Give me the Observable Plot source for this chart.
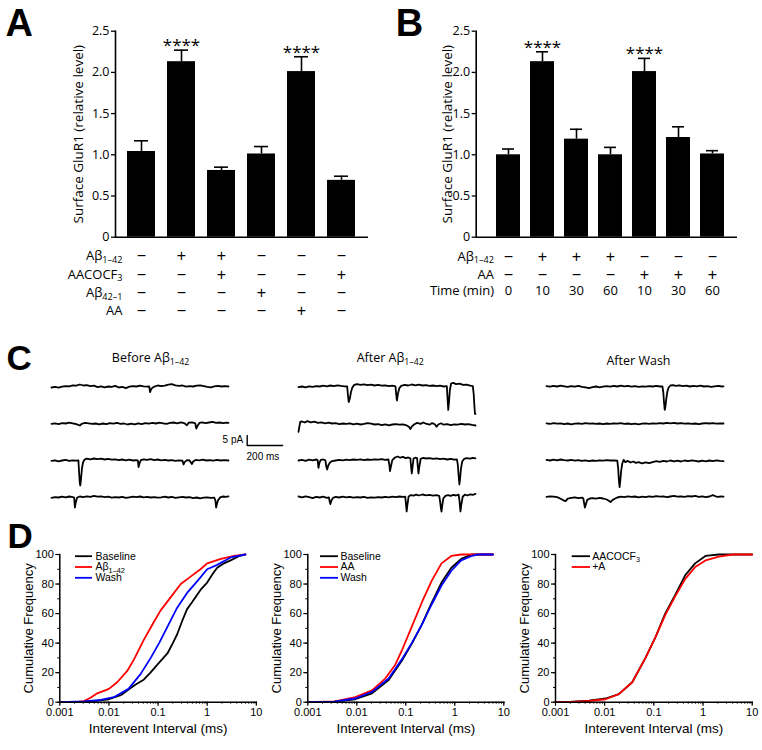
<!DOCTYPE html>
<html><head><meta charset="utf-8">
<script src="https://cdn.jsdelivr.net/npm/d3@7"></script>
<script src="https://cdn.jsdelivr.net/npm/@observablehq/plot@0.6"></script>
<style>
body{margin:0;background:#fff;}
#fig{position:relative;width:762px;height:750px;background:#fff;overflow:hidden;}
#fig svg{position:absolute;overflow:visible;background:transparent;}
</style></head><body><div id="fig"></div>
<script>
// ---------------- DATA ----------------
// Panel A
const aCategories = ["Control", "Aβ1–42", "Aβ1–42 + AACOCF3", "Aβ42–1", "AA", "AACOCF3"];
const aMeans = [1.04, 2.13, 0.81, 1.01, 2.01, 0.69];
const aErrors = [0.13, 0.14, 0.04, 0.09, 0.18, 0.05];
const aStars = ["", "****", "", "", "****", ""];
const aRowLabels = ["Aβ_1–42", "AACOCF_3", "Aβ_42–1", "AA"];
const aRowSigns = [
  ["−", "+", "+", "−", "−", "−"],
  ["−", "−", "+", "−", "−", "+"],
  ["−", "−", "−", "+", "−", "−"],
  ["−", "−", "−", "−", "+", "−"]
];
// Panel B
const bCategories = ["Control 0", "Aβ 10", "Aβ 30", "Aβ 60", "AA 10", "AA 30", "AA 60"];
const bMeans = [1.00, 2.13, 1.19, 1.00, 2.01, 1.21, 1.01];
const bErrors = [0.07, 0.12, 0.12, 0.09, 0.16, 0.13, 0.04];
const bStars = ["", "****", "", "", "****", "", ""];
const bRowLabels = ["Aβ_1–42", "AA", "Time (min)"];
const bRowSigns = [
  ["−", "+", "+", "+", "−", "−", "−"],
  ["−", "−", "−", "−", "+", "+", "+"],
  ["0", "10", "30", "60", "10", "30", "60"]
];
const barYTicks = [0, 0.5, 1.0, 1.5, 2.0, 2.5];
const barYTitle = "Surface GluR1 (relative level)";

// Panel C : traces, [time ms, current pA]
const cTitles = ["Before Aβ_1–42", "After Aβ_1–42", "After Wash"];
const scaleBarPA = 5, scaleBarMS = 200;
const beforeTrace1 = [[0,-0.5],[20,-0.2],[40,-0.6],[60,-0.1],[80,0.2],[100,0.1],[120,0.6],[140,0.4],[160,1.0],[180,0.5],[200,0.7],[220,0.2],[240,0.4],[260,-0.3],[280,0.1],[300,-0.4],[320,0.0],[340,-0.2],[360,0.3],[380,-0.5],[400,-0.2],[420,-0.8],[440,-0.1],[460,0.2],[480,0.0],[500,0.4],[520,0.1],[540,-0.1],[552,0.0],[557,-2.8],[562,-1.5],[570,-0.6],[585,0.1],[600,0.5],[620,0.2],[640,0.4],[660,0.9],[680,1.2],[700,0.6],[720,0.3],[740,0.5],[760,-0.1],[780,0.2],[800,0.0],[820,0.4],[840,0.6],[860,0.2],[880,-0.2],[900,-0.4],[920,0.1],[940,0.3],[960,0.0],[980,0.2],[1000,0.0]];
const beforeTrace2 = [[0,-0.2],[20,0.1],[40,-0.3],[60,0.2],[80,0.0],[100,0.4],[120,0.1],[140,-0.3],[160,-1.0],[170,-0.2],[190,0.3],[210,0.1],[230,-0.2],[250,0.0],[270,-0.4],[290,0.0],[310,-0.3],[330,0.2],[350,-0.1],[370,0.3],[390,-0.2],[410,0.0],[430,-0.5],[450,-0.1],[470,-0.4],[490,0.1],[510,-0.3],[530,0.2],[550,-0.1],[570,0.3],[590,0.0],[610,0.4],[630,0.1],[650,-0.2],[670,0.3],[690,0.5],[710,0.1],[730,0.6],[750,0.2],[765,-0.9],[775,0.4],[795,0.6],[812,0.1],[818,-2.5],[826,-1.0],[836,0.3],[850,0.6],[870,0.2],[890,0.5],[910,0.8],[930,0.3],[950,0.5],[970,0.2],[990,0.4],[1000,0.3]];
const beforeTrace3 = [[0,-0.2],[20,0.1],[40,-0.4],[60,0.0],[80,0.3],[100,-0.2],[120,0.1],[140,-0.1],[152,0.0],[156,-6],[160,-11.5],[163,-12.5],[167,-9],[172,-4],[178,-1.0],[186,0.4],[200,0.9],[220,0.6],[240,1.0],[260,0.7],[280,0.9],[300,0.5],[320,0.8],[340,0.4],[360,0.6],[380,0.2],[400,0.5],[420,0.1],[440,0.4],[460,0.0],[480,0.2],[488,0.0],[492,-3.3],[497,-1.5],[505,0.2],[520,0.6],[540,0.3],[560,0.7],[580,0.2],[600,0.5],[620,0.1],[640,0.3],[660,0.0],[680,0.2],[700,-0.2],[720,0.1],[740,-0.1],[746,-2.0],[752,-0.8],[765,0.2],[780,0.0],[793,-1.8],[800,-0.5],[815,0.3],[835,0.1],[855,0.4],[875,0.0],[895,0.2],[915,-0.1],[935,0.3],[955,0.0],[975,0.2],[1000,0.0]];
const beforeTrace4 = [[0,-0.2],[20,0.2],[40,0.0],[60,0.4],[80,0.1],[100,0.5],[120,0.2],[128,0.0],[132,-5.0],[137,-2.5],[145,0.0],[160,0.5],[180,0.2],[200,0.6],[220,0.3],[240,0.8],[260,0.4],[280,0.6],[300,0.2],[320,0.4],[340,-0.1],[360,0.2],[380,0.0],[400,0.3],[420,-0.2],[440,0.1],[460,0.4],[480,0.2],[500,0.5],[520,0.1],[540,0.3],[560,0.0],[580,0.2],[600,-0.1],[620,0.1],[640,0.4],[660,0.0],[680,0.3],[700,-0.2],[720,0.1],[740,0.3],[760,0.0],[780,0.2],[800,-0.3],[820,0.0],[840,-0.4],[860,-0.1],[880,0.1],[900,-0.2],[920,-0.1],[926,-1.5],[930,-5.0],[935,-3.0],[942,-1.2],[955,0.2],[970,0.5],[985,0.3],[1000,0.6]];
const afterTrace1 = [[0,-0.3],[20,0.0],[40,-0.4],[60,0.1],[80,-0.2],[100,0.2],[120,0.0],[140,0.4],[160,0.1],[180,0.5],[200,0.2],[220,0.6],[240,0.3],[260,0.1],[275,0.0],[280,-5],[284,-7.8],[290,-6],[296,-3],[304,-0.5],[315,0.8],[330,1.2],[350,0.8],[370,1.1],[390,0.7],[410,0.9],[430,0.5],[450,0.8],[470,0.4],[490,0.6],[510,0.2],[530,0.4],[548,0.1],[552,-4],[556,-7.0],[562,-3.5],[570,-0.8],[580,0.3],[600,0.8],[620,0.5],[640,1.0],[660,0.6],[680,0.9],[700,0.5],[720,0.7],[740,0.3],[760,0.5],[780,0.2],[800,0.4],[820,0.0],[838,0.2],[842,-6],[846,-11.7],[850,-8],[855,-2],[862,1.5],[875,1.8],[890,1.2],[910,1.4],[930,0.8],[950,0.9],[970,0.4],[985,0.2],[990,-4],[994,-10],[997,-13.7],[1000,-13.7]];
const afterTrace2 = [[0,-4.2],[4,-2],[10,0.8],[20,1.0],[35,0.5],[50,1.2],[70,0.6],[90,0.9],[110,0.3],[130,0.6],[150,0.1],[170,0.4],[190,0.0],[210,0.2],[230,-0.3],[250,0.0],[270,-0.2],[290,0.1],[310,-0.4],[330,-0.1],[350,-0.5],[370,-0.2],[390,0.2],[410,-0.1],[430,-0.5],[450,-0.3],[470,-0.8],[490,-0.4],[510,-0.9],[530,-0.5],[550,-0.3],[570,-0.6],[590,-0.4],[610,-0.9],[625,-1.8],[632,-2.8],[640,-1.5],[655,-0.4],[670,0.3],[690,-0.2],[705,0.5],[720,-0.1],[740,-0.6],[755,0.2],[770,-0.4],[780,-1.6],[790,-0.5],[805,0.1],[820,-0.6],[840,-0.3],[860,-0.8],[880,-0.4],[900,-0.6],[920,-0.2],[940,-0.5],[960,-0.3],[980,-0.7],[1000,-1.0]];
const afterTrace3 = [[0,0.0],[20,0.3],[40,-0.2],[60,0.4],[80,0.1],[100,0.5],[108,0.2],[113,-3.7],[118,-1.2],[126,0.3],[140,0.5],[152,0.1],[157,-3.0],[162,-4.5],[168,-2.5],[178,-1.0],[190,-0.3],[210,0.0],[230,0.3],[250,0.1],[270,0.4],[290,0.2],[310,0.5],[330,0.3],[350,0.6],[370,0.2],[390,0.5],[410,0.3],[430,0.6],[450,0.4],[470,0.7],[490,0.3],[508,0.5],[513,-2.0],[517,-5.3],[522,-3.0],[530,0.2],[545,1.5],[560,2.0],[575,1.4],[590,1.8],[605,1.2],[620,1.5],[632,1.1],[636,-3],[640,-6.5],[644,-3.5],[650,1.0],[660,1.4],[670,1.2],[674,-3],[678,-6.5],[682,-3.5],[690,0.8],[705,1.3],[720,1.0],[740,1.2],[760,0.8],[780,1.1],[800,0.7],[820,0.9],[840,0.5],[860,0.8],[880,0.4],[895,0.6],[900,-2],[905,-8],[909,-12],[913,-9],[918,-4],[925,-0.5],[935,0.8],[950,1.2],[970,0.9],[985,1.3],[1000,1.1]];
const afterTrace4 = [[0,0.5],[20,0.1],[40,0.6],[60,0.2],[80,-0.3],[100,0.3],[120,0.0],[140,0.4],[160,-0.2],[172,0.1],[176,-2.0],[180,-3.3],[186,-1.5],[195,-0.2],[210,0.3],[230,0.0],[250,0.4],[270,0.1],[290,0.3],[310,-0.1],[330,0.2],[350,0.0],[370,0.3],[390,-0.2],[410,0.1],[430,-0.1],[450,0.2],[470,0.0],[490,0.3],[510,0.1],[530,0.4],[550,0.2],[570,0.5],[590,0.3],[603,0.4],[607,-3],[611,-7],[615,-4],[622,0.5],[635,1.2],[650,0.9],[665,1.4],[680,1.0],[700,1.5],[720,1.1],[740,1.3],[760,0.9],[780,1.2],[795,0.8],[800,-2],[804,-5],[808,-7],[812,-4],[818,-0.5],[830,0.8],[845,1.2],[860,0.8],[875,1.3],[890,1.0],[905,1.4],[910,-2],[915,-7],[920,-3.5],[928,0.5],[940,1.4],[955,1.0],[970,1.6],[985,1.3],[1000,1.8]];
const washTrace1 = [[0,0.2],[20,-0.1],[40,0.3],[60,0.0],[80,0.4],[100,0.1],[120,-0.2],[140,0.2],[160,-0.1],[180,0.3],[200,-0.2],[220,-0.4],[240,-0.8],[260,-0.3],[280,0.0],[300,-0.4],[320,-0.1],[340,0.2],[360,-0.1],[380,0.3],[400,0.0],[420,0.4],[440,0.1],[460,0.3],[480,-0.1],[500,0.2],[520,-0.2],[540,0.1],[560,-0.1],[580,0.2],[600,0.0],[620,0.3],[640,0.0],[655,0.1],[660,-3],[664,-8],[668,-11.7],[672,-10],[677,-6],[683,-2.5],[690,-0.5],[700,0.5],[715,0.7],[730,0.3],[750,0.6],[770,0.2],[790,0.4],[810,0.0],[830,0.3],[850,0.1],[870,0.4],[890,0.0],[910,0.2],[930,-0.2],[950,0.1],[970,0.3],[990,0.0],[1000,0.1]];
const washTrace2 = [[0,0.1],[20,-0.2],[40,0.2],[60,-0.1],[80,0.1],[100,-0.3],[120,0.0],[140,-0.4],[160,-0.1],[180,0.1],[200,-0.2],[220,0.2],[240,-0.1],[260,0.1],[280,-0.2],[300,0.0],[320,-0.3],[340,0.0],[360,-0.2],[380,0.1],[400,-0.1],[420,0.2],[440,-0.2],[460,0.0],[480,-0.3],[500,-0.1],[520,-0.4],[540,-0.1],[560,0.1],[580,-0.2],[600,0.1],[620,-0.1],[640,0.2],[660,0.0],[680,0.3],[700,0.1],[720,0.3],[740,0.0],[760,0.2],[780,-0.1],[800,0.1],[820,-0.2],[840,0.0],[860,-0.3],[880,0.0],[900,0.2],[920,0.0],[940,0.2],[960,-0.1],[980,0.1],[1000,0.0]];
const washTrace3 = [[0,0.3],[20,0.0],[40,0.4],[60,0.1],[80,0.5],[100,0.2],[120,0.0],[140,0.3],[160,-0.1],[180,0.2],[200,-0.2],[220,0.1],[240,-0.3],[260,0.0],[280,-0.2],[300,0.1],[320,-0.1],[340,0.2],[360,0.0],[380,0.1],[400,-0.1],[405,-4],[409,-10],[413,-13.3],[417,-10],[422,-5],[428,-1.5],[436,0.3],[445,-0.8],[460,-0.2],[475,-1.0],[490,-0.5],[505,-1.2],[520,-0.8],[540,-1.4],[560,-0.9],[580,-1.3],[600,-0.8],[620,-0.3],[640,-0.7],[660,-0.2],[680,-0.5],[700,0.0],[720,-0.4],[740,-0.1],[760,-0.5],[780,0.0],[800,-0.3],[820,0.1],[840,-0.2],[860,-0.5],[880,-0.1],[900,-0.4],[920,0.0],[940,-0.3],[960,0.1],[980,-0.2],[1000,-0.3]];
const washTrace4 = [[0,0.3],[20,0.6],[40,0.4],[60,0.2],[80,-0.6],[95,-1.4],[108,-1.8],[120,-0.6],[140,-0.2],[160,0.1],[180,-0.3],[200,-0.1],[208,-0.4],[213,-3],[217,-5],[222,-3.5],[230,-1.2],[245,-0.5],[260,-0.3],[280,-0.6],[300,-0.2],[320,-0.5],[340,-1.0],[355,-1.8],[362,-2.3],[370,-1.5],[385,-0.6],[400,0.0],[420,0.4],[440,0.2],[460,0.6],[480,0.3],[500,0.5],[520,0.1],[540,0.4],[560,0.2],[580,0.6],[600,0.3],[620,0.7],[640,0.4],[660,0.6],[680,0.2],[700,0.5],[720,0.8],[740,0.4],[760,0.6],[780,0.3],[800,0.7],[820,0.5],[840,0.8],[860,0.3],[880,0.6],[900,0.2],[920,0.5],[940,1.2],[955,0.6],[970,0.3],[985,0.5],[1000,0.4]];

// Panel D : cumulative frequency (%) vs interevent interval
const d1Baseline = [[0.001,0],[0.003,0.3],[0.006,1],[0.01,2],[0.018,5],[0.026,9],[0.035,12],[0.05,15],[0.07,20],[0.1,26],[0.155,33],[0.2,40],[0.245,46],[0.31,55],[0.39,63],[0.5,68],[0.73,76],[1,81],[1.3,87],[1.6,91],[2.2,94],[3,96],[4.5,99],[6,100]];
const d1Abeta = [[0.001,0],[0.002,0],[0.0031,0.7],[0.0042,3],[0.0058,6],[0.01,9],[0.0147,13.5],[0.0234,21],[0.0324,29],[0.051,42],[0.081,54],[0.112,62],[0.18,71],[0.29,80],[0.46,85],[0.73,90],[1,94],[1.9,97],[3.5,99],[6,100]];
const d1Wash = [[0.001,0],[0.0031,0.5],[0.0068,1.5],[0.0126,3.4],[0.025,9],[0.044,19],[0.071,30],[0.105,40],[0.155,51],[0.245,64],[0.39,74],[0.63,82],[1,90],[1.6,93],[3,98],[6,100]];
const d2Baseline = [[0.001,0],[0.0034,0.2],[0.0093,2],[0.0204,6],[0.0446,15],[0.083,28],[0.132,39.5],[0.209,52],[0.335,67],[0.535,81],[0.85,91],[1.35,97],[2.2,100],[6,100]];
const d2AA = [[0.001,0],[0.0036,0.5],[0.0093,3.4],[0.0204,8],[0.038,16],[0.06,25],[0.083,35],[0.132,51],[0.209,67],[0.335,82],[0.535,94],[0.85,99],[1.35,100],[6,100]];
const d2Wash = [[0.001,0],[0.0034,0.3],[0.0093,2.5],[0.0204,7],[0.0446,16],[0.083,29],[0.132,40],[0.209,52],[0.335,66],[0.535,79],[0.85,89],[1.35,96],[2.2,99],[3,100],[6,100]];
const d3AACOCF3 = [[0.001,0],[0.002,0.2],[0.0048,1],[0.0104,2.5],[0.0194,5.5],[0.0363,13.5],[0.0676,30],[0.108,44],[0.17,60],[0.275,73],[0.436,86],[0.69,94],[1.12,99],[2.1,100],[10,100]];
const d3PlusA = [[0.001,0],[0.002,0.2],[0.0048,0.8],[0.0104,2],[0.0194,5.5],[0.0363,13.5],[0.0676,30],[0.108,44],[0.17,59],[0.275,72],[0.436,83.5],[0.69,91.5],[1.12,96],[2.1,98.6],[4,100],[10,100]];
const dXTicks = [0.001, 0.01, 0.1, 1, 10];
const dYTicks = [0, 20, 40, 60, 80, 100];

// ---------------- DRAWING ----------------
const fig = document.getElementById("fig");
const SANS = "'Open Sans', sans-serif";
const ARIAL = "'Liberation Sans', Arial, sans-serif";

function subify(svg) {
  svg.querySelectorAll("text").forEach(t => {
    const els = t.querySelectorAll("tspan").length ? [...t.querySelectorAll("tspan")] : [t];
    els.forEach(el => {
      if (el.childElementCount) return;
      const s = el.textContent;
      const i = s.indexOf("_");
      if (i < 0) return;
      el.textContent = s.slice(0, i);
      const sub = document.createElementNS("http://www.w3.org/2000/svg", "tspan");
      sub.setAttribute("font-size", "0.7em");
      sub.setAttribute("dy", "0.3em");
      sub.textContent = s.slice(i + 1);
      el.appendChild(sub);
    });
  });
}
function place(svg, left, top) {
  subify(svg);
  svg.style.left = left + "px";
  svg.style.top = top + "px";
  fig.appendChild(svg);
}

function barPanel(o) {
  const data = o.cats.map((c, i) => ({cat: c, mean: o.means[i], top: o.means[i] + o.errs[i], star: o.stars[i]}));
  const rows = [];
  o.rowSigns.forEach((signs, r) => {
    rows.push(Plot.text(o.cats.map((c, j) => ({cat: c, s: signs[j]})),
      {x: "cat", y: () => 0, text: "s", dy: o.rowDy[r], fontSize: o.signSize[r], fontFamily: o.signFont[r], lineAnchor: "middle", textAnchor: "middle"}));
    rows.push(Plot.text([{cat: o.cats[0], s: o.rowLabels[r]}],
      {x: "cat", y: () => 0, text: "s", dx: o.labelDx, dy: o.rowDy[r], textAnchor: "end", fontSize: 13, lineAnchor: "middle"}));
  });
  return Plot.plot({
    width: o.width, height: 330,
    marginLeft: o.ml, marginRight: o.mr, marginTop: 30.7, marginBottom: 93.3,
    style: {fontFamily: SANS, fontSize: "12.5px", background: "transparent", overflow: "visible", color: "black"},
    x: {type: "band", domain: o.cats, paddingInner: 0.3, paddingOuter: o.po, align: o.align, axis: null},
    y: {domain: [0, 2.5]},
    marks: [
      Plot.barY(data, {x: "cat", y: "mean", fill: "black"}),
      Plot.ruleX(data, {x: "cat", y1: "mean", y2: "top", stroke: "black", strokeWidth: 1.6}),
      Plot.tickY(data, {x: "cat", y: "top", stroke: "black", strokeWidth: 1.6, insetLeft: o.cap, insetRight: o.cap}),
      Plot.text(data.filter(d => d.star), {x: "cat", y: "top", text: "star", lineAnchor: "bottom", dy: 1, fontSize: 17}),
      Plot.frame({anchor: "left", stroke: "black", strokeWidth: 1.6}),
      Plot.ruleY([0], {stroke: "black", strokeWidth: 1.6}),
      Plot.axisY({ticks: barYTicks, tickFormat: d => d === 0 ? "0" : d.toFixed(1), tickSize: 4, tickPadding: 2, strokeWidth: 1.3, label: null}),
      Plot.text([barYTitle], {frameAnchor: "left", rotate: -90, dx: o.titleDx, fontSize: 13.5, textAnchor: "middle", lineAnchor: "middle"}),
      Plot.text([o.letter], {frameAnchor: "top-left", dx: o.letterDx, dy: 4.3, textAnchor: "start", lineAnchor: "bottom", fontSize: 38, fontWeight: "bold", fontFamily: ARIAL}),
      ...rows
    ]
  });
}

place(barPanel({
  cats: aCategories, means: aMeans, errs: aErrors, stars: aStars,
  rowLabels: aRowLabels, rowSigns: aRowSigns, rowDy: [19, 37.3, 55.6, 73.9],
  signSize: [16, 16, 16, 16], signFont: [ARIAL, ARIAL, ARIAL, ARIAL],
  labelDx: -19, width: 380, ml: 115, mr: 12, po: 0.3125, align: 0.48, cap: 7,
  titleDx: -37, letter: "A", letterDx: -110
}), 0, 0);

place(barPanel({
  cats: bCategories, means: bMeans, errs: bErrors, stars: bStars,
  rowLabels: bRowLabels, rowSigns: bRowSigns, rowDy: [19.3, 37.3, 53.5],
  signSize: [16, 16, 13], signFont: [ARIAL, ARIAL, SANS],
  labelDx: -14.5, width: 382, ml: 95.7, mr: 25, po: 0.42, align: 0.6, cap: 6,
  titleDx: -29, letter: "B", letterDx: -80.5
}), 380, 0);

// Panel C
(function () {
  const msPerPx = 1000 / 177;
  const colStartPx = [51, 298, 546];
  const rowBase = [0, -18.5, -37, -55.5];
  const traces = [
    [beforeTrace1, beforeTrace2, beforeTrace3, beforeTrace4],
    [afterTrace1, afterTrace2, afterTrace3, afterTrace4],
    [washTrace1, washTrace2, washTrace3, washTrace4]
  ];
  const pts = [];
  traces.forEach((col, c) => col.forEach((tr, r) => tr.forEach(([t, v]) =>
    pts.push({id: c * 4 + r, t: colStartPx[c] * msPerPx + t, v: v + rowBase[r]}))));
  const sbX = 246.7 * msPerPx, sbY = -29.5;
  const sb = [{t: sbX, v: sbY + scaleBarPA}, {t: sbX, v: sbY}, {t: sbX + scaleBarMS, v: sbY}];
  const titles = cTitles.map((s, i) => ({s, t: [150, 389.7, 638][i] * msPerPx, v: [14.15, 14.15, 12.65][i]}));
  const svg = Plot.plot({
    width: 762, height: 180, margin: 0,
    style: {fontFamily: SANS, fontSize: "12px", background: "transparent", overflow: "visible", color: "black"},
    x: {domain: [0, 762 * msPerPx], axis: null},
    y: {domain: [-62, 28], axis: null},
    marks: [
      Plot.line(pts, {x: "t", y: "v", z: "id", stroke: "black", strokeWidth: 1.8, strokeLinejoin: "round"}),
      Plot.line(sb, {x: "t", y: "v", stroke: "black", strokeWidth: 1.4}),
      Plot.text([{t: sbX, v: sbY + 3, s: scaleBarPA + " pA"}], {x: "t", y: "v", text: "s", dx: -4, textAnchor: "end", fontSize: 10, fontFamily: ARIAL}),
      Plot.text([{t: sbX + scaleBarMS / 2, v: sbY - 5.85, s: scaleBarMS + " ms"}], {x: "t", y: "v", text: "s", dx: -2, fontSize: 10, fontFamily: ARIAL}),
      Plot.text(titles, {x: "t", y: "v", text: "s", fontSize: 12.5}),
      Plot.text(["C"], {frameAnchor: "top-left", dx: 6, dy: 39.5, textAnchor: "start", lineAnchor: "bottom", fontSize: 35, fontWeight: "bold", fontFamily: ARIAL})
    ]
  });
  place(svg, 0, 330);
})();

// Panel D
function cdfPanel(o) {
  const pts = [];
  o.series.forEach(s => s.data.forEach(([x, y]) => pts.push({name: s.name, x, y})));
  const fw = o.width - o.ml - o.mr;
  const legendMarks = [];
  o.series.forEach((s, i) => {
    const dy = 1.7 + i * 10.8;
    legendMarks.push(Plot.ruleY([100], {insetLeft: o.lx0, insetRight: fw - o.lx1, dy, stroke: s.color, strokeWidth: 1.8}));
    legendMarks.push(Plot.text([s.name], {frameAnchor: "top-left", dx: o.ltx, dy, textAnchor: "start", lineAnchor: "middle", fontSize: 10.5}));
  });
  const extra = o.letter ? [Plot.text([o.letter], {frameAnchor: "top-left", dx: 7 - o.ml, dy: -7, textAnchor: "start", lineAnchor: "bottom", fontSize: 35, fontWeight: "bold"})] : [];
  return Plot.plot({
    width: o.width, height: 210,
    marginLeft: o.ml, marginRight: o.mr, marginTop: 24, marginBottom: 38.3,
    style: {fontFamily: ARIAL, fontSize: "11px", background: "transparent", overflow: "visible", color: "black"},
    x: {type: "log", domain: [0.001, 10]},
    y: {domain: [0, 100]},
    color: {domain: o.series.map(s => s.name), range: o.series.map(s => s.color)},
    marks: [
      Plot.axisX({ticks: 50, tickFormat: () => "", tickSize: 2, strokeWidth: 1, label: null}),
      Plot.axisX({ticks: dXTicks, tickFormat: d => String(d), tickSize: 4, tickPadding: 1.5, strokeWidth: 1.2, label: null}),
      Plot.axisY({ticks: 10, tickFormat: () => "", tickSize: 2, strokeWidth: 1, label: null}),
      Plot.axisY({ticks: dYTicks, tickSize: 4, tickPadding: 2, strokeWidth: 1.2, label: null}),
      Plot.line(pts, {x: "x", y: "y", z: "name", stroke: "name", strokeWidth: 1.8}),
      Plot.frame({anchor: "left", stroke: "black", strokeWidth: 1.5}),
      Plot.frame({anchor: "bottom", stroke: "black", strokeWidth: 1.5}),
      Plot.text(["Cumulative Frequency"], {frameAnchor: "left", rotate: -90, dx: -31, fontSize: 13, textAnchor: "middle", lineAnchor: "middle"}),
      Plot.text(["Interevent Interval (ms)"], {frameAnchor: "bottom", dy: 26.3, fontSize: 13.5, textAnchor: "middle", lineAnchor: "middle"}),
      ...legendMarks,
      ...extra
    ]
  });
}

place(cdfPanel({
  width: 262, ml: 59.3, mr: 6.2, lx0: 15.7, lx1: 32.7, ltx: 35.7, letter: "D",
  series: [
    {name: "Baseline", color: "black", data: d1Baseline},
    {name: "Aβ_1–42", color: "#ff0000", data: d1Abeta},
    {name: "Wash", color: "#0000ff", data: d1Wash}
  ]
}), 0, 530);
place(cdfPanel({
  width: 255, ml: 52.3, mr: 6.7, lx0: 12.7, lx1: 30.7, ltx: 32.7,
  series: [
    {name: "Baseline", color: "black", data: d2Baseline},
    {name: "AA", color: "#ff0000", data: d2AA},
    {name: "Wash", color: "#0000ff", data: d2Wash}
  ]
}), 255, 530);
place(cdfPanel({
  width: 257, ml: 50, mr: 10.3, lx0: 16.7, lx1: 35, ltx: 36.7,
  series: [
    {name: "AACOCF_3", color: "black", data: d3AACOCF3},
    {name: "+A", color: "#ff0000", data: d3PlusA}
  ]
}), 505, 530);
</script></body></html>
